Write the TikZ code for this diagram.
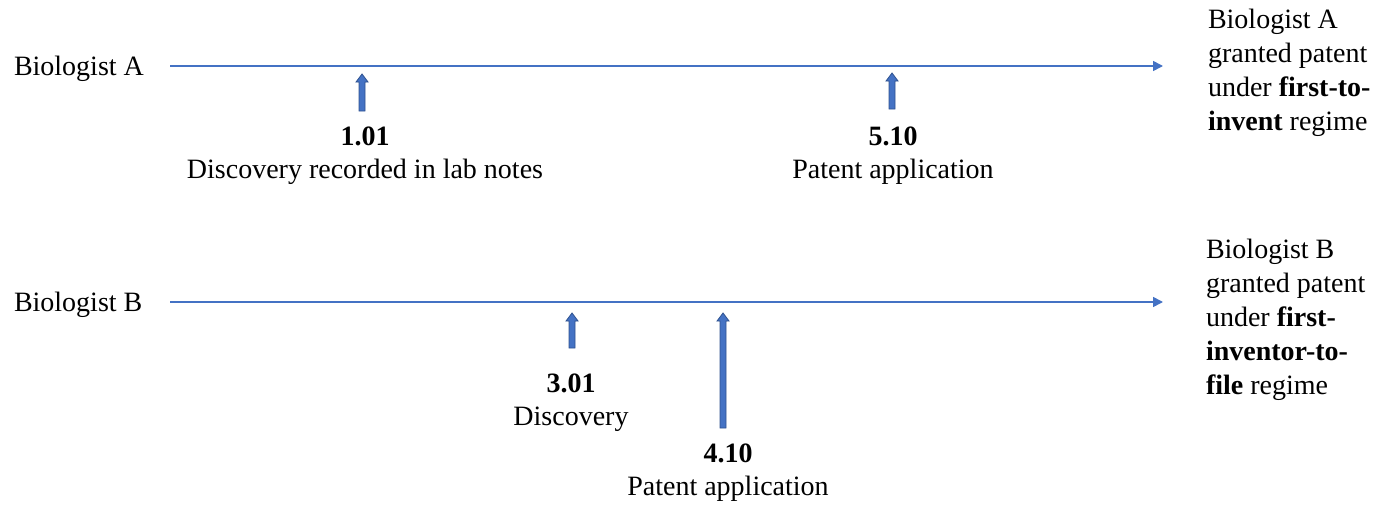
\documentclass[tikz,border=0pt]{standalone}
\usepackage{fontspec}
\setmainfont{Liberation Serif}[BoldFont={Liberation Serif Bold}]
\usetikzlibrary{arrows.meta}
\definecolor{tlblue}{HTML}{4472C4}
\definecolor{tldark}{HTML}{2F528F}
\newcommand\blockarr[3]{%
  \draw[blockarrstyle] (#1-3,#3) -- (#1-3,#2+8) -- (#1-6,#2+8) -- (#1,#2) -- (#1+6,#2+8) -- (#1+3,#2+8) -- (#1+3,#3) -- cycle;}
\begin{document}
\begin{tikzpicture}[x=1pt,y=-1pt,
  every node/.style={inner sep=0pt,outer sep=0pt,font=\fontsize{28}{33.5}\selectfont},
  tline/.style={draw=tlblue,line width=1.6pt,-{Triangle[length=10pt,width=10pt]}},
  blockarrstyle/.style={fill=tlblue,draw=tldark,line width=0.8pt,line join=miter},
  lab/.style={align=center,anchor=base,font=\fontsize{28}{33}\selectfont},
  side/.style={align=left,anchor=base west,font=\fontsize{28}{34}\selectfont}]
\useasboundingbox (0,0) rectangle (1377,506);
% timelines
\coordinate (As) at (170,66);
\coordinate (Ae) at (1163,66);
\coordinate (Bs) at (170,302);
\coordinate (Be) at (1163,302);
\draw[tline] (As) -- (Ae);
\draw[tline] (Bs) -- (Be);
% names
\node[anchor=base west] (nA) at (14,75) {Biologist A};
\node[anchor=base west] (nB) at (14,311) {Biologist B};
% outcomes (anchor = baseline of last line)
\node[side] (rA) at (1208,130) {Biologist A\\granted patent\\under \textbf{first-to-}\\\textbf{invent} regime};
\node[side] (rB) at (1206,394) {Biologist B\\granted patent\\under \textbf{first-}\\\textbf{inventor-to-}\\\textbf{file} regime};
% events
\blockarr{362}{74}{111}
\blockarr{892}{73}{109}
\blockarr{572}{313}{348}
\blockarr{723}{313}{428}
\node[lab] (e1) at (365,178) {\textbf{1.01}\\Discovery recorded in lab notes};
\node[lab] (e2) at (893,178) {\textbf{5.10}\\Patent application};
\node[lab] (e3) at (571,425) {\textbf{3.01}\\Discovery};
\node[lab] (e4) at (728,495) {\textbf{4.10}\\Patent application};
\end{tikzpicture}
\end{document}
